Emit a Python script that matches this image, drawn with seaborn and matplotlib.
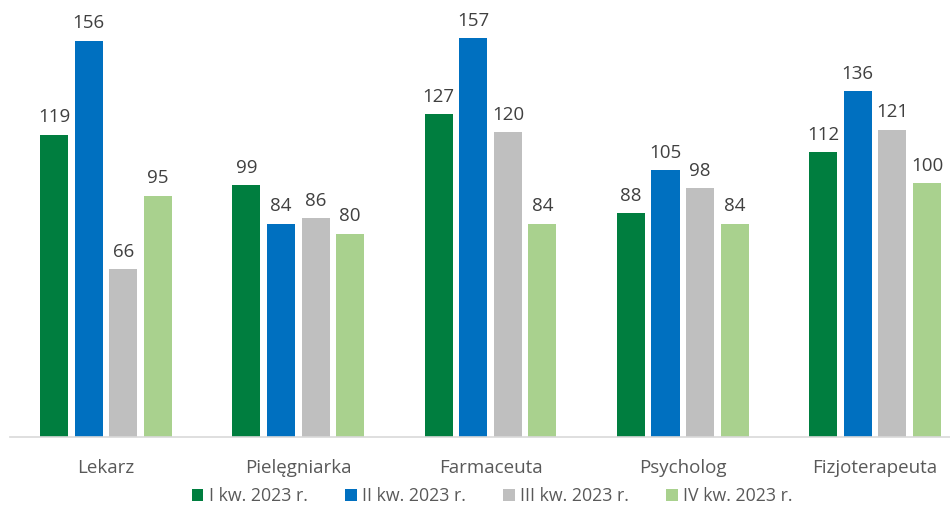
import matplotlib.pyplot as plt
import pandas as pd
import seaborn as sns

categories = ['Lekarz', 'Pielęgniarka', 'Farmaceuta', 'Psycholog', 'Fizjoterapeuta']
series = ['I kw. 2023 r.', 'II kw. 2023 r.', 'III kw. 2023 r.', 'IV kw. 2023 r.']
q1 = [119, 99, 127, 88, 112]
q2 = [156, 84, 157, 105, 136]
q3 = [66, 86, 120, 98, 121]
q4 = [95, 80, 84, 84, 100]
colors = ['#007E3F', '#0070C0', '#BFBFBF', '#A9D18E']

df = pd.DataFrame({'kategoria': categories * 4,
                   'kwartal': [s for s in series for _ in categories],
                   'wartosc': q1 + q2 + q3 + q4})

sns.set_theme(style='white')
plt.rcParams['font.family'] = ['Open Sans', 'DejaVu Sans']

fig = plt.figure(figsize=(9.5, 5.15), dpi=100)
ax = fig.add_axes([0.0105, 0.1515, 0.9895, 0.8485])

sns.barplot(data=df, x='kategoria', y='wartosc', hue='kwartal',
            palette=colors, saturation=1, width=0.72, gap=0.19,
            linewidth=0, ax=ax, legend=True)

for cont in ax.containers:
    ax.bar_label(cont, padding=6, fontsize=13.5, color='#404040')

ax.set_ylim(0, 172)
ax.set_xlim(-0.5, 4.39)
ax.set_xlabel('')
ax.set_ylabel('')
ax.set_yticks([])
for s in ['top', 'left', 'right']:
    ax.spines[s].set_visible(False)
ax.spines['bottom'].set_color('#D9D9D9')
ax.spines['bottom'].set_linewidth(1.2)
ax.tick_params(axis='x', length=0, pad=16, labelsize=13.5, labelcolor='#595959')

handles, labels = ax.get_legend_handles_labels()
ax.legend(handles, labels, loc='center', bbox_to_anchor=(0.513, -0.135),
          ncol=4, frameon=False, fontsize=12.8, labelcolor='#595959',
          handlelength=0.65, handleheight=0.65, handletextpad=0.3,
          columnspacing=2.1)

fig.savefig('out.png', dpi=100)
